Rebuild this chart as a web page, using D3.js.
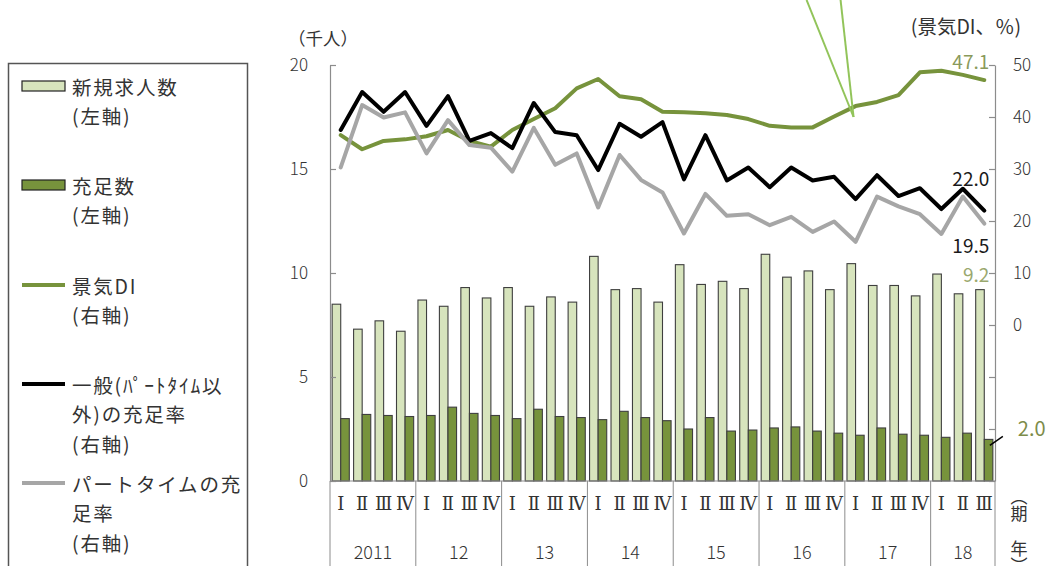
<!DOCTYPE html>
<html lang="ja">
<head>
<meta charset="utf-8">
<script src="https://cdn.jsdelivr.net/npm/d3@7"></script>
<style>
  html, body { margin: 0; padding: 0; background: #fff; }
  svg { display: block; font-family: "Noto Sans CJK JP", "Noto Sans", sans-serif; }
</style>
</head>
<body>
<svg id="chart" width="1054" height="566"></svg>
<script>
// Years and number of quarters shown for each
const years = ["2011", "12", "13", "14", "15", "16", "17", "18"];
const quartersPerYear = [4, 4, 4, 4, 4, 4, 4, 3];
const quarterLabels = ["Ⅰ", "Ⅱ", "Ⅲ", "Ⅳ"];

// Left axis (千人)
const newOpenings = [8.5, 7.3, 7.7, 7.2, 8.7, 8.4, 9.3, 8.8, 9.3, 8.4, 8.85, 8.6,
  10.8, 9.2, 9.25, 8.6, 10.4, 9.45, 9.6, 9.25, 10.9, 9.8, 10.1, 9.2,
  10.45, 9.4, 9.4, 8.9, 9.95, 9.0, 9.2];
const filled = [3.0, 3.2, 3.15, 3.1, 3.15, 3.55, 3.25, 3.15, 3.0, 3.45, 3.1, 3.05,
  2.95, 3.35, 3.05, 2.9, 2.5, 3.05, 2.4, 2.45, 2.55, 2.6, 2.4, 2.3,
  2.2, 2.55, 2.25, 2.2, 2.1, 2.3, 2.0];

// Right axis (景気DI、％)
const businessDI = [36.5, 33.8, 35.4, 35.7, 36.3, 37.5, 35.4, 34.3, 37.5, 39.6, 41.7, 45.5,
  47.3, 44.0, 43.4, 41.0, 40.9, 40.7, 40.4, 39.6, 38.3, 38.0, 38.0, 40.1,
  42.1, 42.9, 44.2, 48.6, 48.9, 48.1, 47.1];
const generalRate = [37.5, 44.8, 41.0, 44.8, 38.3, 44.0, 35.4, 36.9, 34.0, 42.7, 37.1, 36.5,
  29.8, 38.7, 36.2, 39.0, 28.0, 36.5, 27.8, 30.3, 26.5, 30.3, 27.8, 28.5,
  24.2, 28.8, 24.8, 26.3, 22.3, 26.2, 22.0];
const partTimeRate = [30.3, 42.3, 39.9, 40.9, 33.0, 39.4, 34.6, 34.1, 29.5, 37.9, 30.8, 33.0,
  22.6, 32.7, 27.9, 25.5, 17.6, 25.2, 21.0, 21.3, 19.2, 20.8, 17.9, 19.9,
  16.0, 24.7, 22.8, 21.3, 17.5, 24.7, 19.5];

const leftTicks = [0, 5, 10, 15, 20];
const rightTicks = [-30, -20, -10, 0, 10, 20, 30, 40, 50];

// Build the quarter categories
const categories = [];
years.forEach((y, yi) => {
  for (let q = 0; q < quartersPerYear[yi]; q++) categories.push({ year: y, yi, q: quarterLabels[q] });
});
const idx = categories.map((d, i) => i);

const C = {
  light: "#d7e4bd", dark: "#77933c", outline: "#3f3f3f",
  di: "#77933c", general: "#000000", part: "#a6a6a6",
  axis: "#8c8c8c", text: "#333333", labelGreen: "#8a9a5b"
};

const svg = d3.select("#chart");
const plot = { left: 330, right: 995, top: 65, bottom: 481 };

const x = d3.scaleBand().domain(idx).range([plot.left, plot.right]).paddingInner(0.2).paddingOuter(0.1);
const xSub = d3.scaleBand().domain([0, 1]).range([0, x.bandwidth()]);
const step = x.step();
const xEdge = i => plot.left + i * step;
const yL = d3.scaleLinear().domain([0, 20]).range([plot.bottom, plot.top]);
const yR = d3.scaleLinear().domain([-30, 50]).range([plot.bottom, plot.top]);
const cx = i => x(i) + x.bandwidth() / 2;

// Bars
const bars = svg.append("g");
bars.selectAll("rect.open").data(newOpenings).join("rect")
  .attr("x", (d, i) => x(i) + xSub(0)).attr("width", xSub.bandwidth())
  .attr("y", d => yL(d)).attr("height", d => yL(0) - yL(d))
  .attr("fill", C.light).attr("stroke", C.outline).attr("stroke-width", 1.1);
bars.selectAll("rect.fill").data(filled).join("rect")
  .attr("x", (d, i) => x(i) + xSub(1)).attr("width", xSub.bandwidth())
  .attr("y", d => yL(d)).attr("height", d => yL(0) - yL(d))
  .attr("fill", C.dark).attr("stroke", C.outline).attr("stroke-width", 1.1);

// Axes
const axL = svg.append("g").attr("transform", `translate(${plot.left},0)`)
  .call(d3.axisLeft(yL).tickValues(leftTicks).tickSizeInner(-6).tickSizeOuter(0).tickPadding(22));
const axR = svg.append("g").attr("transform", `translate(${plot.right},0)`)
  .call(d3.axisRight(yR).tickValues(rightTicks).tickSizeInner(-6).tickSizeOuter(0).tickPadding(18)
    .tickFormat(d => d >= 0 ? d : ""));
[axL, axR].forEach(a => {
  a.select(".domain").attr("stroke", C.axis).attr("stroke-width", 1.2);
  a.selectAll(".tick line").attr("stroke", C.axis).attr("stroke-width", 1.2);
  a.selectAll(".tick text").attr("fill", C.text).style("font-size", "17px")
    .style("font-family", "'Noto Sans CJK JP', sans-serif").attr("font-weight", 300);
});

// Category axis
svg.append("line").attr("x1", plot.left).attr("x2", plot.right)
  .attr("y1", plot.bottom).attr("y2", plot.bottom).attr("stroke", C.axis).attr("stroke-width", 1.2);
let start = 0;
const yearBounds = years.map((y, yi) => { const s = start; start += quartersPerYear[yi]; return { y, s, e: start }; });
const sepIdx = [0, ...yearBounds.map(b => b.e)];
svg.append("g").selectAll("line").data(sepIdx).join("line")
  .attr("x1", d => xEdge(d)).attr("x2", d => xEdge(d))
  .attr("y1", plot.bottom).attr("y2", 566).attr("stroke", C.axis).attr("stroke-width", 1);
svg.append("g").selectAll("text").data(categories).join("text")
  .attr("x", (d, i) => cx(i)).attr("y", 503).attr("text-anchor", "middle").attr("dominant-baseline", "central")
  .style("font-family", "'DejaVu Serif', 'Liberation Serif', serif").style("font-size", "18px")
  .attr("fill", C.text).text(d => d.q);
svg.append("g").selectAll("text").data(yearBounds).join("text")
  .attr("x", d => (xEdge(d.s) + xEdge(d.e)) / 2).attr("y", 551).attr("text-anchor", "middle")
  .attr("dominant-baseline", "central").style("font-size", "18px").attr("font-weight", 300)
  .attr("fill", C.text).text(d => d.y);

// Vertical axis title for the category axis
[["（期", 488], ["年）", 540]].forEach(([t, yy]) =>
  svg.append("text").attr("x", 1019).attr("y", yy)
    .style("writing-mode", "vertical-rl").style("font-size", "17px")
    .attr("fill", C.text).text(t));

// Axis unit titles
svg.append("text").attr("x", 323).attr("y", 37).attr("text-anchor", "middle").attr("dominant-baseline", "central")
  .style("font-size", "17.5px").attr("fill", C.text).text("（千人）");
svg.append("text").attr("x", 966).attr("y", 25).attr("text-anchor", "middle").attr("dominant-baseline", "central")
  .style("font-size", "19.5px").attr("fill", C.text).text("(景気DI、％)");

// Lines
const lineGen = d3.line().x((d, i) => cx(i)).y(d => yR(d));
[[businessDI, C.di], [generalRate, C.general], [partTimeRate, C.part]].forEach(([data, col]) => {
  svg.append("path").datum(data).attr("d", lineGen).attr("fill", "none")
    .attr("stroke", col).attr("stroke-width", 4).attr("stroke-linejoin", "round").attr("stroke-linecap", "round");
});

// Callout strokes meeting near the DI line
const last = newOpenings.length - 1;
const apexX = cx(24) - 2, apexY = yR(40);
svg.append("g").selectAll("line").data([cx(24) - 49, cx(24) - 15]).join("line")
  .attr("x1", d => d).attr("y1", 0).attr("x2", apexX).attr("y2", apexY)
  .attr("stroke", "#92c45a").attr("stroke-width", 2);

// Value labels
const lab = (txt, xx, yy, col, anchor = "end") =>
  svg.append("text").attr("x", xx).attr("y", yy).attr("text-anchor", anchor).attr("dominant-baseline", "central")
    .style("font-size", "19px").attr("fill", col).text(txt);
lab(businessDI[last].toFixed(1), cx(last) + 5, yR(businessDI[last]) - 20, C.labelGreen);
lab(generalRate[last].toFixed(1), cx(last) + 5, yR(generalRate[last]) - 33, "#1a1a1a");
lab(partTimeRate[last].toFixed(1), cx(last) + 5, yR(partTimeRate[last]) + 21, "#1a1a1a");
lab(newOpenings[last].toFixed(1), cx(last) + 5, yL(newOpenings[last]) - 16, "#9aa86e");
const fx = x(last) + xSub(1) + xSub.bandwidth();
svg.append("line").attr("x1", fx - 3).attr("y1", yL(filled[last]) + 6).attr("x2", fx + 10).attr("y2", yL(filled[last]) - 3)
  .attr("stroke", "#000").attr("stroke-width", 1.5);
lab(filled[last].toFixed(1), fx + 25, yL(filled[last]) - 12, "#7d8c4a", "start").style("font-size", "20px");

// Legend
const lg = svg.append("g");
lg.append("rect").attr("x", 8.5).attr("y", 63.5).attr("width", 239).attr("height", 520)
  .attr("fill", "#fff").attr("stroke", "#555").attr("stroke-width", 1.5);
const legendItems = [
  { type: "rect", fill: C.light, y: 86, lines: ["新規求人数", "(左軸)"] },
  { type: "rect", fill: C.dark, y: 185, lines: ["充足数", "(左軸)"] },
  { type: "line", stroke: C.di, y: 285, lines: ["景気DI", "(右軸)"] },
  { type: "line", stroke: C.general, y: 384, lines: ["一般(ﾊﾟｰﾄﾀｲﾑ以", "外)の充足率", "(右軸)"] },
  { type: "line", stroke: C.part, y: 483, lines: ["パートタイムの充", "足率", "(右軸)"] }
];
legendItems.forEach(it => {
  if (it.type === "rect") {
    lg.append("rect").attr("x", 22).attr("y", it.y - 5).attr("width", 43).attr("height", 10)
      .attr("fill", it.fill).attr("stroke", "#222").attr("stroke-width", 1.2);
  } else {
    lg.append("line").attr("x1", 22).attr("x2", 65).attr("y1", it.y).attr("y2", it.y)
      .attr("stroke", it.stroke).attr("stroke-width", 4);
  }
  it.lines.forEach((t, k) => lg.append("text").attr("x", 72).attr("y", it.y + k * 29.5)
    .attr("dominant-baseline", "central").style("font-size", "19.5px").style("letter-spacing", "1.8px")
    .attr("fill", C.text).text(t));
});
</script>
</body>
</html>
